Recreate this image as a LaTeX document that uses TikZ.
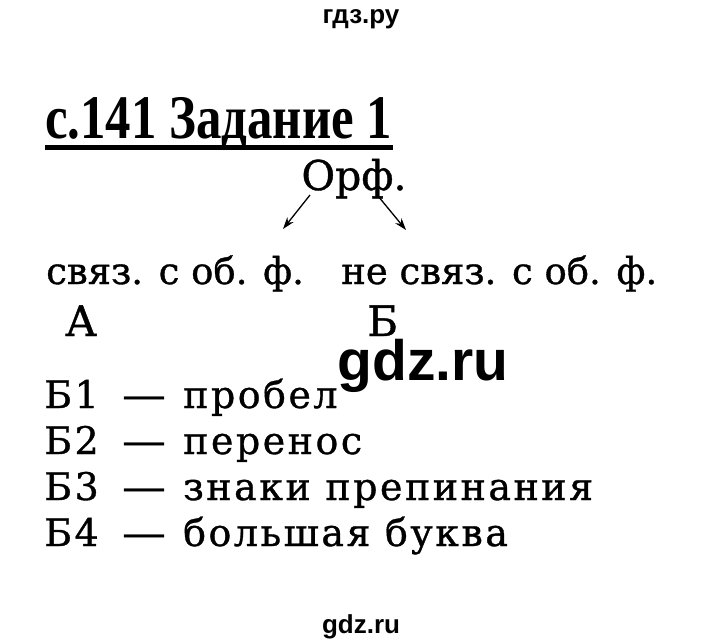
\documentclass[tikz,border=0pt]{standalone}
\usepackage{fontspec}
\setmainfont{DejaVu Serif}
\newfontfamily\bodyfont{DejaVu Serif}[FakeBold=0.9]
\newfontfamily\listfont{DejaVu Serif}[FakeBold=0.9,LetterSpace=6.5]
\newfontfamily\titlefont{Liberation Serif}
\newfontfamily\wmfont{Liberation Sans}
\usetikzlibrary{arrows.meta}
\begin{document}
\begin{tikzpicture}[x=1pt,y=-1pt,
  body/.style={anchor=base west,inner sep=0pt,font=\bodyfont\fontsize{37}{40}\selectfont},
  listtxt/.style={anchor=base west,inner sep=0pt,font=\listfont\fontsize{38}{42}\selectfont},
  dashtxt/.style={anchor=base west,inner sep=0pt,font=\bodyfont\fontsize{38}{42}\selectfont},
  letter/.style={anchor=base west,inner sep=0pt,font=\bodyfont\fontsize{42}{46}\selectfont},
  wm/.style={anchor=base,inner sep=0pt},
  arr/.style={line width=1.3pt,-{Stealth[length=12pt,width=8pt]}}]
\useasboundingbox[fill=white] (0,0) rectangle (720,642);
\node[wm,font=\wmfont\bfseries\fontsize{26}{28}\selectfont] (top) at (361,24) {гдз.ру};
\node[anchor=base west,inner sep=0pt,font=\titlefont\bfseries\fontsize{62}{66}\selectfont] (title) at (45,138) {\scalebox{0.82}[1]{с.141 Задание 1}};
\draw[line width=5pt] (45,147.5) -- (393,147.5);
\node[body,anchor=base,font=\bodyfont\fontsize{41}{44}\selectfont] (orf) at (354,190) {Орф.};
\coordinate (l1) at (310,195);
\coordinate (l2) at (283,229);
\coordinate (r1) at (378,196);
\coordinate (r2) at (406,230);
\draw[arr] (l1) -- (l2);
\draw[arr] (r1) -- (r2);
\node[body] (a) at (46,284) {связ. с об. ф.};
\node[body] (b) at (341,284) {не связ. с об. ф.};
\node[letter] (la) at (65,336) {А};
\node[letter] (lb) at (367,336) {Б};
\node[wm,font=\wmfont\bfseries\fontsize{57}{60}\selectfont] (wmid) at (423,380) {gdz.ru};
\node[listtxt] (k1) at (44,408) {Б1};
\node[dashtxt] (d1) at (122,408) {\scalebox{1.15}[1]{—}};
\node[listtxt] (b1) at (183,408) {пробел};
\node[listtxt] (k2) at (44,454) {Б2};
\node[dashtxt] (d2) at (122,454) {\scalebox{1.15}[1]{—}};
\node[listtxt] (b2) at (183,454) {перенос};
\node[listtxt] (k3) at (44,500) {Б3};
\node[dashtxt] (d3) at (122,500) {\scalebox{1.15}[1]{—}};
\node[listtxt] (b3) at (183,500) {знаки препинания};
\node[listtxt] (k4) at (44,546) {Б4};
\node[dashtxt] (d4) at (122,546) {\scalebox{1.15}[1]{—}};
\node[listtxt] (b4) at (183,546) {большая буква};
\node[wm,font=\wmfont\bfseries\fontsize{26}{28}\selectfont] (bot) at (361,633) {gdz.ru};
\end{tikzpicture}
\end{document}
